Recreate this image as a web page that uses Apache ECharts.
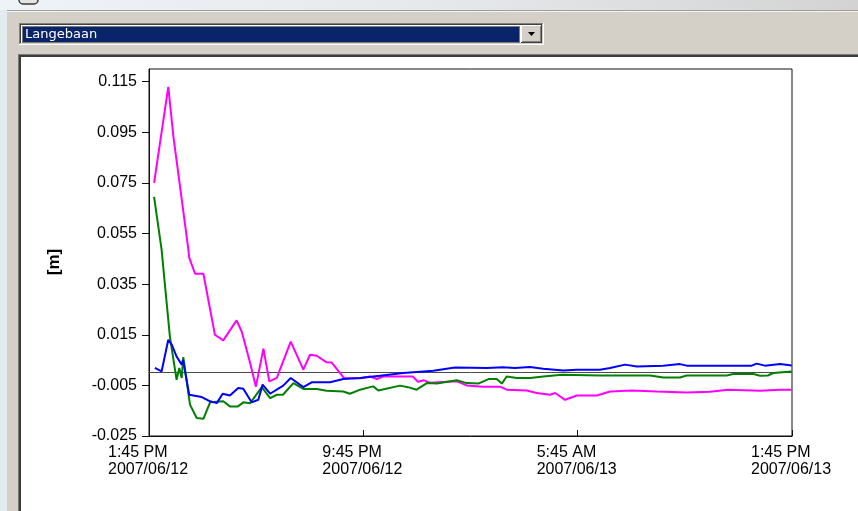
<!DOCTYPE html>
<html>
<head>
<meta charset="utf-8">
<script src="https://cdn.jsdelivr.net/npm/echarts@6/dist/echarts.min.js"></script>
<style>
  html, body { margin: 0; padding: 0; background: #d4d0c8; }
  #chart { width: 858px; height: 511px; }
</style>
</head>
<body>
<div id="chart"></div>
<script>
// Station shown in the selector
const stationName = 'Langebaan';

// Hours elapsed since 1:45 PM 2007/06/12, and the matching offsets in metres
const magentaHours = [0.19, 0.72, 0.91, 1.47, 1.50, 1.72, 2.03, 2.46, 2.77, 3.27, 3.46, 3.77, 3.99, 4.27, 4.49, 4.77, 5.29, 5.76, 6.01, 6.26, 6.63, 6.82, 7.28, 7.88, 8.25, 8.50, 8.74, 9.85, 10.04, 10.27, 10.49, 11.49, 11.86, 12.47, 13.10, 13.35, 14.10, 14.47, 14.97, 15.16, 15.53, 15.97, 16.71, 17.21, 18.02, 18.95, 20.07, 20.94, 21.61, 22.81, 23.56, 23.99];
const magentaValues = [0.0750, 0.1129, 0.0934, 0.0486, 0.0455, 0.0391, 0.0391, 0.0150, 0.0128, 0.0207, 0.0163, 0.0040, -0.0055, 0.0095, -0.0034, -0.0020, 0.0123, 0.0012, 0.0071, 0.0067, 0.0041, 0.0040, -0.0021, -0.0022, -0.0015, -0.0025, -0.0015, -0.0015, -0.0036, -0.0030, -0.0040, -0.0034, -0.0050, -0.0055, -0.0055, -0.0067, -0.0070, -0.0080, -0.0087, -0.0080, -0.0107, -0.0090, -0.0090, -0.0074, -0.0070, -0.0074, -0.0078, -0.0075, -0.0067, -0.0071, -0.0067, -0.0067];

const blueHours = [0.22, 0.47, 0.72, 0.85, 1.03, 1.22, 1.27, 1.50, 1.97, 2.28, 2.53, 2.75, 3.02, 3.33, 3.52, 3.83, 4.08, 4.24, 4.52, 5.01, 5.29, 5.76, 6.07, 6.76, 7.25, 7.88, 8.62, 9.49, 10.61, 11.42, 12.61, 13.21, 13.66, 14.22, 14.71, 15.47, 15.97, 16.83, 17.21, 17.77, 18.21, 19.19, 19.82, 20.07, 22.50, 22.68, 22.99, 23.56, 23.99];
const blueValues = [0.0019, 0.0005, 0.0130, 0.0111, 0.0064, 0.0032, 0.0051, -0.0087, -0.0096, -0.0113, -0.0120, -0.0083, -0.0090, -0.0060, -0.0063, -0.0117, -0.0107, -0.0047, -0.0083, -0.0051, -0.0021, -0.0057, -0.0038, -0.0038, -0.0025, -0.0021, -0.0012, -0.0001, 0.0008, 0.0021, 0.0019, 0.0022, 0.0019, 0.0023, 0.0016, 0.0009, 0.0012, 0.0012, 0.0019, 0.0032, 0.0025, 0.0028, 0.0034, 0.0028, 0.0028, 0.0036, 0.0028, 0.0034, 0.0029];

const greenHours = [0.19, 0.47, 0.60, 0.78, 1.03, 1.13, 1.22, 1.28, 1.53, 1.78, 2.03, 2.28, 2.77, 3.02, 3.32, 3.52, 3.77, 4.21, 4.52, 4.77, 5.00, 5.39, 5.76, 6.26, 6.63, 7.25, 7.50, 7.88, 8.25, 8.37, 8.56, 9.37, 9.67, 9.99, 10.37, 10.74, 11.49, 11.86, 12.29, 12.67, 12.98, 13.17, 13.35, 13.73, 14.22, 14.72, 15.41, 16.83, 18.70, 18.95, 19.20, 19.82, 20.07, 21.56, 21.81, 22.56, 22.81, 23.10, 23.30, 23.99];
const greenValues = [0.0695, 0.0486, 0.0341, 0.0143, -0.0028, 0.0019, -0.0021, 0.0062, -0.0126, -0.0179, -0.0182, -0.0117, -0.0113, -0.0133, -0.0133, -0.0117, -0.0121, -0.0057, -0.0100, -0.0087, -0.0087, -0.0041, -0.0064, -0.0064, -0.0071, -0.0074, -0.0083, -0.0067, -0.0057, -0.0054, -0.0070, -0.0051, -0.0057, -0.0067, -0.0041, -0.0043, -0.0030, -0.0041, -0.0043, -0.0025, -0.0025, -0.0043, -0.0015, -0.0021, -0.0021, -0.0015, -0.0008, -0.0011, -0.0011, -0.0015, -0.0019, -0.0019, -0.0011, -0.0011, -0.0005, -0.0005, -0.0012, -0.0011, -0.0001, 0.0005];

// Axis tick positions and labels
const xTickHours = [0, 8, 16, 24];
const xTickTimes = ['1:45 PM', '9:45 PM', '5:45 AM', '1:45 PM'];
const xTickDates = ['2007/06/12', '2007/06/12', '2007/06/13', '2007/06/13'];
const yTicks = [-0.025, -0.005, 0.015, 0.035, 0.055, 0.075, 0.095, 0.115];
const yUnit = '[m]';

const zip = (xs, ys) => xs.map((x, i) => [x, ys[i]]);
const FONT = '"Liberation Sans", Arial, sans-serif';

const chart = echarts.init(document.getElementById('chart'), null, { renderer: 'canvas' });

// Window chrome around the plot: desktop strip, dialog face, combo box, chart panel
const chrome = [
  { type: 'rect', shape: { x: 0, y: 0, width: 858, height: 10 }, style: {
      fill: new echarts.graphic.LinearGradient(0, 0, 1, 0, [
        { offset: 0, color: '#eef3f7' }, { offset: 0.5, color: '#e6e9ec' }, { offset: 1, color: '#d3d3d3' }]) }, z: -20 },
  { type: 'rect', shape: { x: 19, y: -6, width: 19, height: 10, r: 4 }, style: { fill: '#e4e4e4', stroke: '#3a3a3a', lineWidth: 1.5 }, z: -19 },
  { type: 'rect', shape: { x: 0, y: 10, width: 7, height: 501 }, style: { fill: '#e1ebf0' }, z: -20 },
  { type: 'line', shape: { x1: 7, y1: 10.5, x2: 858, y2: 10.5 }, style: { stroke: '#9c9c9c', lineWidth: 1 }, z: -19 },
  { type: 'line', shape: { x1: 7, y1: 11.5, x2: 858, y2: 11.5 }, style: { stroke: '#f4f4f4', lineWidth: 1 }, z: -19 },
  // combo box
  { type: 'rect', shape: { x: 19, y: 23, width: 525, height: 22 }, style: { fill: '#ffffff' }, z: -18 },
  { type: 'rect', shape: { x: 19, y: 23, width: 524, height: 21 }, style: { fill: '#808080' }, z: -17 },
  { type: 'rect', shape: { x: 20, y: 24, width: 523, height: 20 }, style: { fill: '#d4d0c8' }, z: -16 },
  { type: 'rect', shape: { x: 20, y: 24, width: 522, height: 19 }, style: { fill: '#404040' }, z: -15 },
  { type: 'rect', shape: { x: 21, y: 25, width: 521, height: 18 }, style: { fill: '#ffffff' }, z: -14 },
  { type: 'rect', shape: { x: 22, y: 26, width: 498, height: 17 }, style: { fill: '#0a246a' }, z: -13 },
  { type: 'rect', shape: { x: 22.5, y: 26.5, width: 497, height: 16 }, style: { fill: null, stroke: '#e8d890', lineWidth: 1, lineDash: [1, 1] }, z: -12 },
  { type: 'text', x: 25, y: 34.5, style: { text: stationName, fill: '#ffffff', font: '13px "DejaVu Sans", Tahoma, sans-serif', verticalAlign: 'middle' }, z: -11 },
  // drop-down button
  { type: 'rect', shape: { x: 521, y: 25, width: 21, height: 18 }, style: { fill: '#404040' }, z: -13 },
  { type: 'rect', shape: { x: 521, y: 25, width: 20, height: 17 }, style: { fill: '#ffffff' }, z: -12 },
  { type: 'rect', shape: { x: 522, y: 26, width: 19, height: 16 }, style: { fill: '#808080' }, z: -11 },
  { type: 'rect', shape: { x: 522, y: 26, width: 18, height: 15 }, style: { fill: '#d4d0c8' }, z: -10 },
  { type: 'polygon', shape: { points: [[528, 32], [535, 32], [531.5, 36]] }, style: { fill: '#000000' }, z: -9 },
  // chart panel
  { type: 'rect', shape: { x: 18, y: 54, width: 840, height: 457 }, style: { fill: '#7a7a7a' }, z: -18 },
  { type: 'rect', shape: { x: 19, y: 55, width: 839, height: 456 }, style: { fill: '#3c3c3c' }, z: -17 },
  { type: 'rect', shape: { x: 21, y: 57, width: 837, height: 454 }, style: { fill: '#ffffff' }, z: -16 },
  // unit label on the value axis
  { type: 'text', x: 54, y: 262, rotation: Math.PI / 2, style: { text: yUnit, fill: '#000000', font: 'bold 17px ' + FONT, align: 'center', verticalAlign: 'middle' }, z: 10 }
];

const lineSeries = (name, color, hours, values, extra) => Object.assign({
  name: name,
  type: 'line',
  data: zip(hours, values),
  showSymbol: false,
  symbol: 'none',
  lineStyle: { color: color, width: 2 },
  itemStyle: { color: color },
  animation: false,
  z: 3
}, extra || {});

chart.setOption({
  animation: false,
  backgroundColor: 'transparent',
  graphic: { elements: chrome },
  grid: {
    left: 149, top: 69, right: 66, bottom: 75,
    show: true, borderColor: '#111', borderWidth: 1, backgroundColor: 'transparent'
  },
  xAxis: {
    type: 'value', min: 0, max: 24, interval: 8,
    axisLine: { show: true, onZero: false, lineStyle: { color: '#111', width: 1 } },
    axisTick: { show: true, inside: true, length: 6, lineStyle: { color: '#111' } },
    splitLine: { show: false },
    axisLabel: {
      margin: 8,
      formatter: v => {
        const i = xTickHours.indexOf(v);
        return i < 0 ? '' : '{t|' + xTickTimes[i] + '}\n{t|' + xTickDates[i] + '}';
      },
      rich: { t: { width: 82, align: 'left', fontFamily: FONT, fontSize: 16, color: '#000', lineHeight: 17 } }
    }
  },
  yAxis: {
    type: 'value', min: -0.025, max: 0.12, interval: 0.02,
    axisLine: { show: true, onZero: false, lineStyle: { color: '#111', width: 1 } },
    axisTick: { show: true, length: 7, lineStyle: { color: '#111' }, customValues: yTicks },
    splitLine: { show: false },
    axisLabel: {
      margin: 12, color: '#000', fontFamily: FONT, fontSize: 16,
      customValues: yTicks,
      formatter: v => v.toFixed(3)
    }
  },
  series: [
    lineSeries('magenta', '#ff00ff', magentaHours, magentaValues, {
      markLine: {
        silent: true, symbol: 'none', label: { show: false },
        lineStyle: { color: '#4a4a4a', width: 1, type: 'solid' },
        data: [{ yAxis: 0 }],
        z: 1
      }
    }),
    lineSeries('green', '#008000', greenHours, greenValues),
    lineSeries('blue', '#0000ff', blueHours, blueValues)
  ]
});
</script>
</body>
</html>
